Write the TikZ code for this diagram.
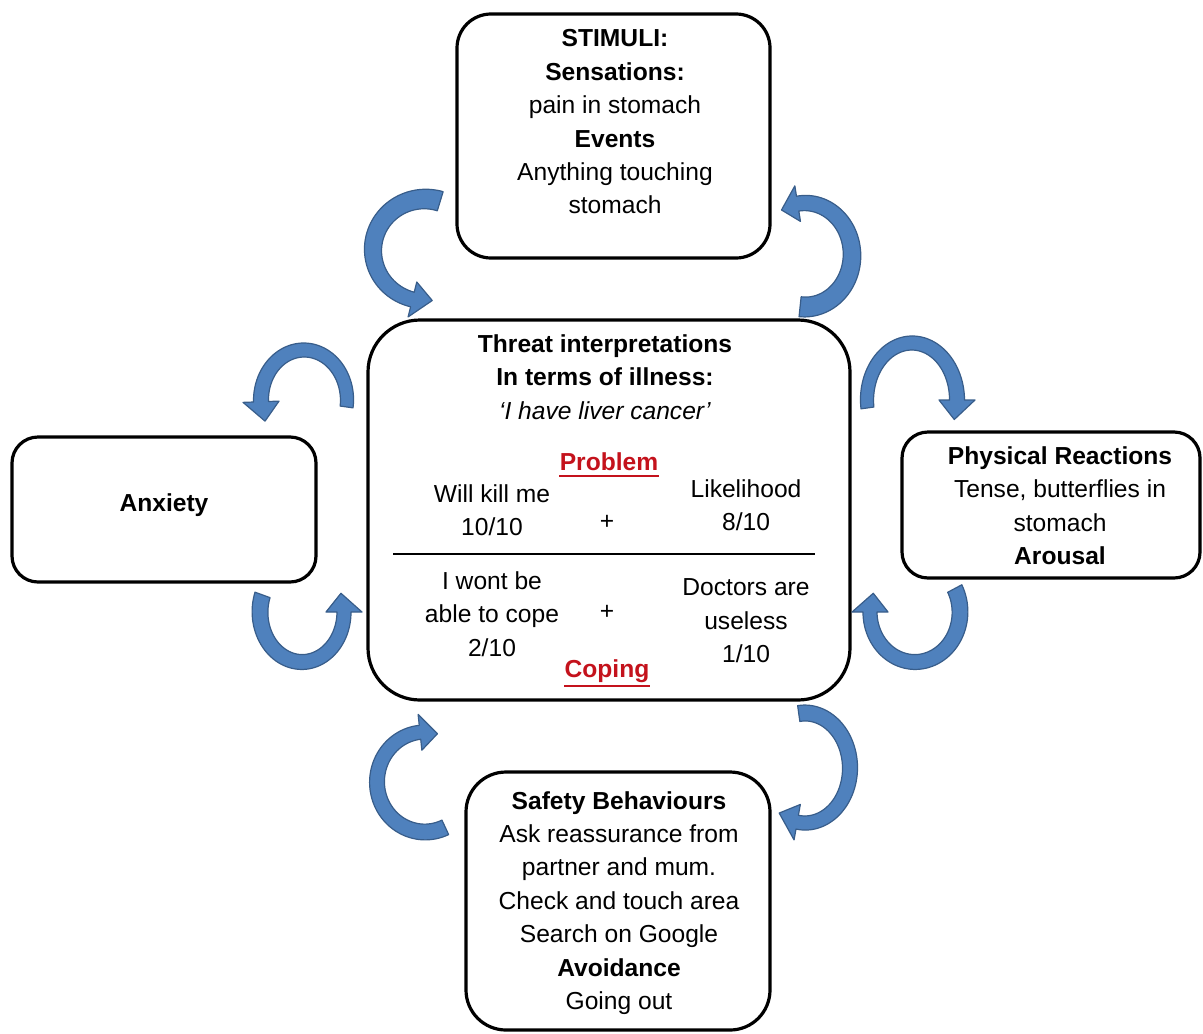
\documentclass[tikz,border=0pt]{standalone}
\usepackage{fontspec}
\setmainfont{Liberation Sans}
\definecolor{arrowfill}{RGB}{79,129,189}
\definecolor{arrowline}{RGB}{56,93,138}
\definecolor{probred}{RGB}{196,18,28}
% Curved block arrow along an elliptical arc:
% #1,#2 centre; #3,#4 radii; #5 start angle; #6 angle of the head base;
% #7,#8 band width at start and at head; #9 angle of the tip
\newcommand\bentarrow[9]{%
  \filldraw[arrowband]
    plot[domain=#5:#6,samples=60]
      ({#1+(#3+(#7+(#8-#7)*(\x-(#5))/((#6)-(#5)))/2)*cos(\x)},
       {#2+(#4+(#7+(#8-#7)*(\x-(#5))/((#6)-(#5)))/2)*sin(\x)})
    -- ({#1+(#3+18)*cos(#6)},{#2+(#4+18)*sin(#6)})
    -- ({#1+(#3)*cos(#9)},{#2+(#4)*sin(#9)})
    -- ({#1+(#3-18)*cos(#6)},{#2+(#4-18)*sin(#6)})
    -- plot[domain=#6:#5,samples=60]
      ({#1+(#3-(#7+(#8-#7)*(\x-(#5))/((#6)-(#5)))/2)*cos(\x)},
       {#2+(#4-(#7+(#8-#7)*(\x-(#5))/((#6)-(#5)))/2)*sin(\x)})
    -- cycle;}
\begin{document}
\begin{tikzpicture}[x=0.5pt,y=-0.5pt,
  box/.style={draw=black,line width=1.6pt,fill=white,inner sep=0pt},
  txt/.style={align=center,inner sep=0pt,font=\fontsize{12.3}{16.7}\selectfont},
  redhead/.style={txt,text=probred,font=\fontsize{12.3}{16.7}\selectfont\bfseries},
  redline/.style={draw=probred,line width=1pt},
  arrowband/.style={fill=arrowfill,draw=arrowline,line width=0.6pt,line join=round}]
\useasboundingbox (0,0) rectangle (1203,1033);

% boxes
\node[box,rounded corners=17pt,minimum width=156.5pt,minimum height=122pt] (stim) at (613.5,136) {};
\node[box,rounded corners=26pt,minimum width=241pt,minimum height=190pt] (threat) at (609,510) {};
\node[box,rounded corners=13pt,minimum width=152pt,minimum height=72.5pt] (anx) at (164,509.5) {};
\node[box,rounded corners=13pt,minimum width=149pt,minimum height=73pt] (phys) at (1051,505) {};
\node[box,rounded corners=20pt,minimum width=152pt,minimum height=129pt] (safe) at (618,901) {};

% texts
\node[txt] (stimtxt) at (615,122) {\textbf{STIMULI:}\\\textbf{Sensations:}\\pain in stomach\\\textbf{Events}\\Anything touching\\stomach};
\node[txt] (threattxt) at (605,377) {\textbf{Threat interpretations}\\\textbf{In terms of illness:}\\\textit{‘I have liver cancer’}};
\node[redhead] (prob) at (609,462) {Problem};
\draw[redline] ([yshift=-2.5pt]prob.base west) -- ([yshift=-2.5pt]prob.base east);
\node[txt] (kill) at (492,510) {Will kill me\\10/10};
\node[txt] (plusa) at (607,522) {+};
\node[txt] (likely) at (746,505) {Likelihood\\8/10};
\node[txt] (cope) at (492,614) {I wont be\\able to cope\\2/10};
\node[txt] (plusb) at (607,612) {+};
\node[txt] (docs) at (746,621) {Doctors are\\useless\\1/10};
\node[redhead] (coping) at (607,671) {Coping};
\draw[redline] ([yshift=-4.5pt]coping.base west) -- ([yshift=-4.5pt]coping.base east);
\draw[line width=0.6pt] (393,554) -- (815,554);

\node[txt] (anxtxt) at (164,505) {\textbf{Anxiety}};
\node[txt] (phystxt) at (1060,505.5) {\textbf{Physical Reactions}\\Tense, butterflies in\\stomach\\\textbf{Arousal}};
\node[txt] (safetxt) at (619,903) {\textbf{Safety Behaviours}\\Ask reassurance from\\partner and mum.\\Check and touch area\\Search on Google\\\textbf{Avoidance}\\Going out};

% curved arrows of the cycle
\bentarrow{425}{250}{52}{51}{-73}{-256}{20}{15}{-278}
\bentarrow{805}{255}{47}{52}{96}{-99}{20}{15}{-120}
\bentarrow{304}{400}{43}{50}{8}{-182}{13}{15}{-205}
\bentarrow{912}{400}{45}{57}{172}{360}{13}{15}{380}
\bentarrow{302}{612}{42}{50}{200}{0}{16}{14}{-22}
\bentarrow{915}{612}{45}{50}{-28}{180}{16}{14}{202}
\bentarrow{425}{782}{48}{50}{65}{264}{16}{14}{285}
\bentarrow{805}{768}{45}{55}{-98}{100}{16}{14}{125}
\end{tikzpicture}
\end{document}
